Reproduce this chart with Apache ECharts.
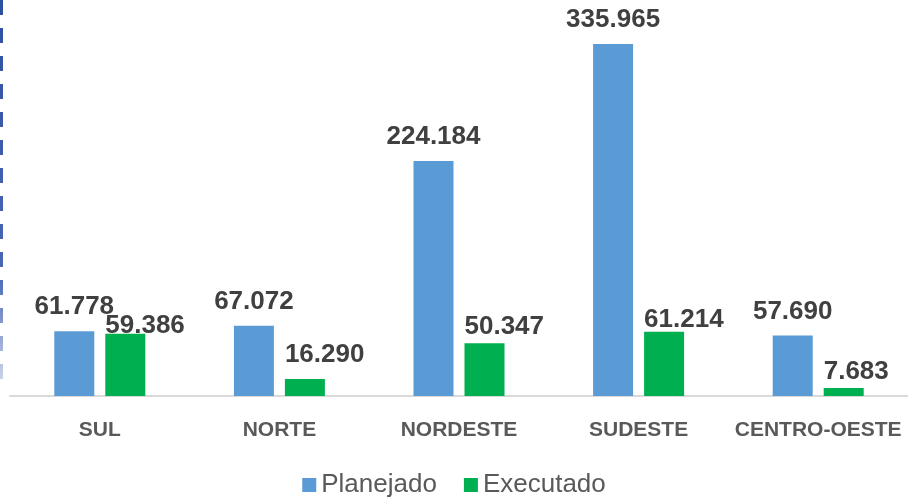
<!DOCTYPE html>
<html>
<head>
<meta charset="utf-8">
<script src="https://cdn.jsdelivr.net/npm/echarts@6/dist/echarts.min.js"></script>
<style>
  html, body { margin: 0; padding: 0; background: #fff; }
  #chart { width: 908px; height: 500px; }
</style>
</head>
<body>
<div id="chart"></div>
<script>
// dados do gráfico
const regioes = ['SUL', 'NORTE', 'NORDESTE', 'SUDESTE', 'CENTRO-OESTE'];
const planejado = [61778, 67072, 224184, 335965, 57690];
const executado = [59386, 16290, 50347, 61214, 7683];
const seriesNames = ['Planejado', 'Executado'];

// ajuste vertical dos rótulos verdes (posicionados à mão no original)
const execLabelDrop = [16, 0, 8, 12, 8];

const fmt = v => String(v).replace(/\B(?=(\d{3})+(?!\d))/g, '.');

const myChart = echarts.init(document.getElementById('chart'));

const labelBase = {
  show: true,
  position: 'top',
  distance: 11,
  color: '#404040',
  fontFamily: 'Liberation Sans, Arial, sans-serif',
  fontWeight: 'bold',
  fontSize: 26,
  formatter: p => fmt(p.value)
};

const option = {
  animation: false,
  grid: { left: 10, right: -2, top: 44, bottom: 104 },
  legend: {
    data: seriesNames,
    bottom: -3,
    left: 'center',
    itemWidth: 14,
    itemHeight: 14,
    itemGap: 27,
    icon: 'rect',
    textStyle: {
      color: '#595959',
      fontFamily: 'Liberation Sans, Arial, sans-serif',
      fontSize: 26
    }
  },
  xAxis: {
    type: 'category',
    data: regioes,
    axisTick: { show: false },
    axisLine: { lineStyle: { color: '#D9D9D9', width: 2 } },
    axisLabel: {
      interval: 0,
      margin: 24,
      color: '#595959',
      fontFamily: 'Liberation Sans, Arial, sans-serif',
      fontWeight: 'bold',
      fontSize: 21
    }
  },
  yAxis: {
    type: 'value',
    min: 0,
    max: 335965,
    show: false,
    splitLine: { show: false }
  },
  series: [
    {
      name: seriesNames[0],
      type: 'bar',
      barWidth: 40,
      barGap: '27.5%',
      itemStyle: { color: '#5B9BD5' },
      label: labelBase,
      data: planejado
    },
    {
      name: seriesNames[1],
      type: 'bar',
      barWidth: 40,
      itemStyle: { color: '#00B050' },
      label: Object.assign({}, labelBase, { align: 'left', offset: [-20, 0] }),
      data: executado.map((v, i) => ({
        value: v,
        label: { offset: [-20, execLabelDrop[i]] }
      }))
    }
  ],
  graphic: [
    {
      type: 'line',
      shape: { x1: 1.5, y1: 0, x2: 1.5, y2: 392 },
      style: {
        lineWidth: 3,
        lineDash: [15, 13],
        stroke: new echarts.graphic.LinearGradient(0, 0, 0, 1, [
          { offset: 0, color: '#2E4FA0' },
          { offset: 0.7, color: '#4A68B4' },
          { offset: 1, color: '#DDE3F2' }
        ])
      }
    }
  ]
};

myChart.setOption(option);
</script>
</body>
</html>
